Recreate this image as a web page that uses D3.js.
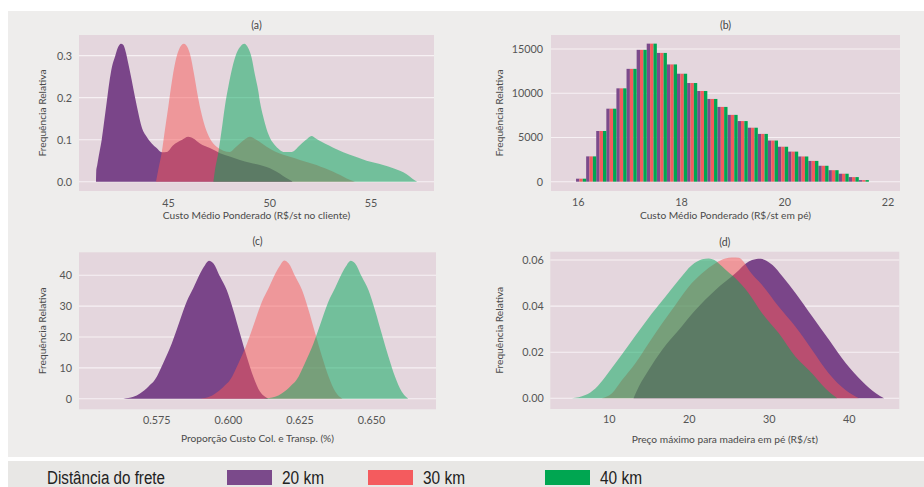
<!DOCTYPE html>
<html>
<head>
<meta charset="utf-8">
<script src="https://cdn.jsdelivr.net/npm/d3@7"></script>
<style>
  html, body { margin: 0; padding: 0; background: #ffffff; }
  svg { display: block; }
</style>
</head>
<body>
<svg id="chart" width="924" height="487"></svg>
<script>
// ---- Series ----
const distances = ["20 km", "30 km", "40 km"];
const areaColors = ["#7a4589", "#f85858", "#00a85a"];
const areaOpacity = [1, 0.5, 0.5];
const barColors = ["#7b4a8b", "#f45b5e", "#00a651"];

// (a) Custo médio ponderado no cliente: density [x, y]
const clientCost20 = [[41.45,0],[41.46,0.024],[41.51,0.04],[41.61,0.068],[41.73,0.10],[41.84,0.139],[41.98,0.19],[42.10,0.234],[42.24,0.274],[42.39,0.298],[42.52,0.318],[42.68,0.328],[42.80,0.325],[42.91,0.31],[43.04,0.282],[43.21,0.242],[43.37,0.202],[43.54,0.163],[43.70,0.131],[43.95,0.107],[44.20,0.091],[44.44,0.08],[44.69,0.07],[44.94,0.071],[45.26,0.087],[45.68,0.099],[46.00,0.107],[46.25,0.103],[46.58,0.091],[47.07,0.08],[47.57,0.068],[48.05,0.060],[48.55,0.052],[49.05,0.045],[49.54,0.040],[49.87,0.035],[50.20,0.028],[50.53,0.019],[50.80,0.010],[51.02,0.004],[51.15,0]];
const clientCost30 = [[44.41,0],[44.52,0.028],[44.69,0.069],[44.85,0.123],[45.02,0.179],[45.18,0.234],[45.35,0.282],[45.54,0.314],[45.79,0.328],[45.95,0.321],[46.12,0.298],[46.28,0.258],[46.45,0.21],[46.61,0.171],[46.83,0.131],[47.07,0.103],[47.40,0.083],[47.73,0.074],[48.06,0.071],[48.30,0.080],[48.55,0.091],[48.80,0.101],[49.05,0.107],[49.38,0.099],[49.87,0.083],[50.28,0.072],[50.69,0.064],[51.10,0.058],[51.51,0.052],[51.92,0.046],[52.33,0.040],[52.75,0.032],[53.16,0.024],[53.50,0.016],[53.82,0.008],[54.23,0]];
const clientCost40 = [[47.24,0],[47.32,0.028],[47.48,0.068],[47.65,0.123],[47.81,0.179],[47.98,0.226],[48.19,0.274],[48.39,0.306],[48.60,0.323],[48.77,0.328],[48.96,0.318],[49.13,0.295],[49.29,0.255],[49.46,0.215],[49.54,0.19],[49.70,0.155],[49.87,0.125],[50.05,0.103],[50.28,0.087],[50.48,0.077],[50.69,0.071],[51.10,0.071],[51.51,0.087],[51.80,0.099],[52.09,0.109],[52.30,0.103],[52.58,0.095],[52.95,0.086],[53.32,0.077],[53.98,0.064],[54.40,0.057],[54.80,0.050],[55.20,0.045],[55.62,0.040],[56.12,0.032],[56.45,0.026],[56.78,0.018],[57.05,0.008],[57.30,0]];

// (b) Custo médio ponderado em pé: histogram bins
const stumpBinEdges = [15.965,16.161,16.356,16.552,16.747,16.943,17.139,17.334,17.530,17.725,17.921,18.117,18.312,18.508,18.703,18.899,19.095,19.290,19.486,19.681,19.877,20.073,20.268,20.464,20.659,20.855,21.051,21.246,21.442,21.637];
const stumpCount20 = [340,2860,5730,8250,10550,12750,14900,15600,14550,13250,12200,11150,10250,9350,8450,7550,6850,6100,5400,4650,3950,3400,2850,2350,1800,1300,900,520,180];
const stumpCount30 = [340,2860,5730,8250,10550,12750,14900,15600,14550,13250,12200,11150,10250,9350,8450,7550,6850,6100,5400,4650,3950,3400,2850,2350,1800,1300,900,520,180];
const stumpCount40 = [340,2860,5730,8250,10550,12750,14900,15600,14550,13250,12200,11150,10250,9350,8450,7550,6850,6100,5400,4650,3950,3400,2850,2350,1800,1300,900,520,180];

// (c) Proporção custo colheita e transporte: density [x, y]
const haulShare20 = [[0.5635,0],[0.5670,0.6],[0.5693,1.7],[0.5722,3.9],[0.5745,6.1],[0.5774,11.5],[0.5804,17.9],[0.5833,25.5],[0.5856,31.4],[0.5879,35.8],[0.5903,40.6],[0.5920,43.3],[0.5934,44.7],[0.5949,43.9],[0.5973,39.5],[0.5996,35.2],[0.6019,28.7],[0.6042,21.2],[0.6066,13.6],[0.6089,7.1],[0.6112,2.3],[0.6130,0.6],[0.6141,0]];
const haulShare30 = [[0.5905,0],[0.5935,0.6],[0.5956,1.7],[0.5985,3.9],[0.6008,6.1],[0.6037,11.5],[0.6067,17.9],[0.6096,25.5],[0.6119,31.4],[0.6142,35.8],[0.6166,40.6],[0.6183,43.3],[0.6197,44.8],[0.6212,43.9],[0.6236,39.5],[0.6259,35.2],[0.6282,28.7],[0.6305,21.2],[0.6329,13.6],[0.6352,7.1],[0.6375,2.3],[0.6390,0.6],[0.6400,0]];
const haulShare40 = [[0.6125,0],[0.6165,0.6],[0.6188,1.7],[0.6217,3.9],[0.6240,6.1],[0.6269,11.5],[0.6299,17.9],[0.6328,25.5],[0.6351,31.4],[0.6374,35.8],[0.6398,40.6],[0.6415,43.3],[0.6429,44.7],[0.6444,43.9],[0.6468,39.5],[0.6491,35.2],[0.6514,28.7],[0.6537,21.2],[0.6561,13.6],[0.6584,7.1],[0.6607,2.3],[0.6622,0.6],[0.6630,0]];

// (d) Preço máximo para madeira em pé: density [x, y]
const maxPrice20 = [[13.1,0],[13.75,0.005],[14.99,0.0123],[16.66,0.021],[18.75,0.0296],[20.83,0.0383],[23.33,0.047],[25.83,0.0542],[27.5,0.0593],[28.3,0.0603],[29.0,0.0605],[29.7,0.0597],[30.46,0.0578],[31.71,0.0528],[33.37,0.0455],[35.45,0.0354],[37.54,0.0253],[39.62,0.0152],[41.71,0.0072],[43.37,0.0022],[44.4,0]];
const maxPrice30 = [[9.16,0],[10.41,0.0022],[11.66,0.0079],[13.33,0.0152],[14.99,0.0239],[16.66,0.0325],[18.33,0.0405],[19.99,0.0484],[21.66,0.0542],[23.33,0.0586],[24.58,0.0607],[25.4,0.0611],[26.25,0.061],[26.9,0.059],[27.5,0.0557],[29.16,0.0492],[31.25,0.0397],[33.33,0.031],[35.41,0.021],[37.5,0.0108],[39.58,0.0036],[41.25,0]];
const maxPrice40 = [[5.41,0],[7.08,0.0014],[8.33,0.0043],[9.58,0.0094],[10.83,0.0152],[12.5,0.0231],[14.16,0.031],[15.41,0.0369],[17.08,0.0441],[18.75,0.0513],[20.41,0.0578],[21.66,0.0603],[22.5,0.0607],[23.2,0.060],[23.75,0.0585],[24.6,0.0558],[25.6,0.0528],[27.5,0.0455],[29.16,0.0369],[31.25,0.0282],[33.33,0.018],[35.41,0.0108],[37.08,0.0043],[38.54,0]];

// ---- Axis ticks and labels ----
const ticksAx = [45, 50, 55];
const ticksAy = [0, 0.1, 0.2, 0.3];
const ticksBx = [16, 18, 20, 22];
const ticksBy = [0, 5000, 10000, 15000];
const ticksCx = [0.575, 0.600, 0.625, 0.650];
const ticksCy = [0, 10, 20, 30, 40];
const ticksDx = [10, 20, 30, 40];
const ticksDy = [0, 0.02, 0.04, 0.06];
const yTitle = "Frequência Relativa";
const legendTitle = "Distância do frete";

// ---- Drawing ----
const FONT = "Lato, 'Open Sans', sans-serif";
const svg = d3.select("#chart");

svg.append("rect").attr("x", 8).attr("y", 11).attr("width", 916).attr("height", 446).attr("fill", "#eeedec");
svg.append("rect").attr("x", 8).attr("y", 461).attr("width", 916).attr("height", 26).attr("fill", "#e8e7e5");

function panel(cfg) {
  const g = svg.append("g");
  const x = d3.scaleLinear().domain(cfg.xDomain).range([cfg.left, cfg.right]);
  const y = d3.scaleLinear().domain(cfg.yDomain).range([cfg.bottom, cfg.top]);

  g.append("rect")
    .attr("x", cfg.left).attr("y", cfg.top)
    .attr("width", cfg.right - cfg.left).attr("height", cfg.bottom - cfg.top)
    .attr("fill", "#e4d6dd");

  g.selectAll("line.grid").data(cfg.yTicks).join("line")
    .attr("class", "grid")
    .attr("x1", cfg.left).attr("x2", cfg.right)
    .attr("y1", d => y(d)).attr("y2", d => y(d))
    .attr("stroke", "#f7f1f4").attr("stroke-width", 1.1);

  const xa = g.append("g")
    .attr("transform", `translate(0,${cfg.bottom})`)
    .call(d3.axisBottom(x).tickValues(cfg.xTicks).tickFormat(cfg.xFmt).tickSize(0));
  xa.select(".domain").remove();
  xa.selectAll("text")
    .attr("y", cfg.xLabelOffset).attr("dy", "0.35em")
    .attr("fill", "#555").style("font-family", FONT).style("font-size", "10.8px");

  const ya = g.append("g")
    .attr("transform", `translate(${cfg.left},0)`)
    .call(d3.axisLeft(y).tickValues(cfg.yTicks).tickFormat(cfg.yFmt).tickSize(0).tickPadding(cfg.yPad));
  ya.select(".domain").remove();
  ya.selectAll("text")
    .attr("fill", "#555").style("font-family", FONT).style("font-size", "10.8px");

  const cx = (cfg.left + cfg.right) / 2;
  g.append("text").attr("x", cx).attr("y", cfg.titleY).attr("dy", "0.35em")
    .attr("text-anchor", "middle").attr("fill", "#444")
    .style("font-family", FONT).style("font-size", "10.5px").text(cfg.title);
  g.append("text").attr("x", cx).attr("y", cfg.xTitleY).attr("dy", "0.35em")
    .attr("text-anchor", "middle").attr("fill", "#4a4a4a")
    .style("font-family", FONT).style("font-size", "10.2px").text(cfg.xTitle);
  g.append("text")
    .attr("transform", `translate(${cfg.yTitleX},${(cfg.top + cfg.bottom) / 2}) rotate(-90)`)
    .attr("dy", "0.35em").attr("text-anchor", "middle").attr("fill", "#4a4a4a")
    .style("font-family", FONT).style("font-size", "10.2px").text(yTitle);

  return { g, x, y };
}

function densities(p, seriesList) {
  const area = d3.area()
    .x(d => p.x(d[0])).y0(p.y(0)).y1(d => p.y(d[1]))
    .curve(d3.curveMonotoneX);
  p.g.selectAll("path.density").data(seriesList).join("path")
    .attr("class", "density")
    .attr("d", d => area(d))
    .attr("fill", (d, i) => areaColors[i])
    .attr("fill-opacity", (d, i) => areaOpacity[i]);
}

// (a)
const pa = panel({
  left: 79, right: 434, top: 35, bottom: 191,
  xDomain: [40.61, 58.13], yDomain: [-0.022, 0.349],
  xTicks: ticksAx, yTicks: ticksAy,
  xFmt: d3.format("d"), yFmt: d3.format(".1f"),
  xLabelOffset: 12, yPad: 7,
  title: "(a)", titleY: 25,
  xTitle: "Custo Médio Ponderado (R$/st no cliente)", xTitleY: 215.5, yTitleX: 42.5
});
densities(pa, [clientCost20, clientCost30, clientCost40]);

// (b)
const pb = panel({
  left: 551, right: 900, top: 35, bottom: 191,
  xDomain: [15.48, 22.24], yDomain: [-1051, 16576],
  xTicks: ticksBx, yTicks: ticksBy,
  xFmt: d3.format("d"), yFmt: d3.format("d"),
  xLabelOffset: 11.6, yPad: 8,
  title: "(b)", titleY: 25,
  xTitle: "Custo Médio Ponderado (R$/st em pé)", xTitleY: 215, yTitleX: 499.7
});
const stumpCounts = [stumpCount20, stumpCount30, stumpCount40];
stumpCounts.forEach((counts, s) => {
  pb.g.selectAll(`rect.bar${s}`).data(counts).join("rect")
    .attr("class", `bar${s}`)
    .attr("x", (d, i) => {
      const a = pb.x(stumpBinEdges[i]), b = pb.x(stumpBinEdges[i + 1]);
      return a + s * (b - a) / 3;
    })
    .attr("width", (d, i) => (pb.x(stumpBinEdges[i + 1]) - pb.x(stumpBinEdges[i])) / 3)
    .attr("y", d => pb.y(d))
    .attr("height", d => pb.y(0) - pb.y(d))
    .attr("fill", barColors[s]);
});

// (c)
const pc = panel({
  left: 79, right: 436, top: 252.3, bottom: 409.3,
  xDomain: [0.548, 0.6727], yDomain: [-3.44, 47.46],
  xTicks: ticksCx, yTicks: ticksCy,
  xFmt: d3.format(".3f"), yFmt: d3.format("d"),
  xLabelOffset: 10.7, yPad: 7,
  title: "(c)", titleY: 241.7,
  xTitle: "Proporção Custo Col. e Transp. (%)", xTitleY: 438.3, yTitleX: 42.5
});
densities(pc, [haulShare20, haulShare30, haulShare40]);

// (d)
const pd = panel({
  left: 550.3, right: 899.3, top: 251.7, bottom: 409,
  xDomain: [2.7, 46.3], yDomain: [-0.00464, 0.0636],
  xTicks: ticksDx, yTicks: ticksDy,
  xFmt: d3.format("d"), yFmt: d3.format(".2f"),
  xLabelOffset: 10.3, yPad: 6.6,
  title: "(d)", titleY: 242,
  xTitle: "Preço máximo para madeira em pé (R$/st)", xTitleY: 439, yTitleX: 499.7
});
densities(pd, [maxPrice20, maxPrice30, maxPrice40]);

// ---- Legend (condensed lettering) ----
const LEGEND_FONT = "'Liberation Sans', Arial, sans-serif";
const lg = svg.append("g");
lg.append("text").attr("x", 47).attr("y", 478).attr("dy", "0.35em")
  .attr("fill", "#222").style("font-family", LEGEND_FONT)
  .style("font-size", "18px")
  .attr("textLength", 118).attr("lengthAdjust", "spacingAndGlyphs")
  .text(legendTitle);
const swatchX = [227, 368, 545];
distances.forEach((name, i) => {
  lg.append("rect").attr("x", swatchX[i]).attr("y", 470).attr("width", 45).attr("height", 15)
    .attr("fill", barColors[i]);
  lg.append("text").attr("x", swatchX[i] + 55).attr("y", 478).attr("dy", "0.35em")
    .attr("fill", "#222").style("font-family", LEGEND_FONT)
    .style("font-size", "18px")
    .attr("textLength", 42).attr("lengthAdjust", "spacingAndGlyphs")
    .text(name);
});
</script>
</body>
</html>
